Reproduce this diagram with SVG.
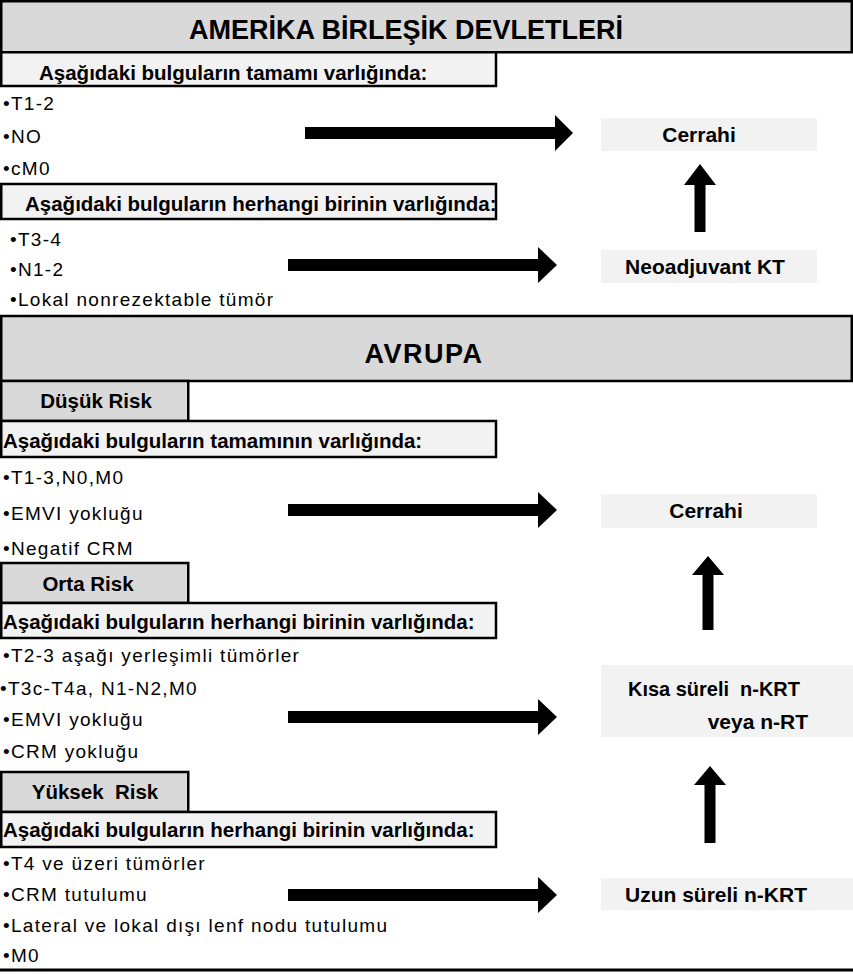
<svg xmlns="http://www.w3.org/2000/svg" width="853" height="974" viewBox="0 0 853 974">
<style>
.hdr{fill:#d9d9d9;stroke:#000;stroke-width:2.5}
.sub{fill:#f2f2f2;stroke:#000;stroke-width:2.5}
.res{fill:#f2f2f2}
text{fill:#000;font-family:"Liberation Sans",Arial,sans-serif}
.tt{font-size:27px;font-weight:bold;text-anchor:middle}
.tb{font-size:20.5px;font-weight:bold}
.tr{font-size:21px;font-weight:bold}
.ti{font-size:19px;letter-spacing:1.3px}
.mid{text-anchor:middle}
.arr{fill:#000}
</style>
<rect width="853" height="974" fill="#fff"/>

<g id="header-usa">
<rect class="hdr" x="1.25" y="1.25" width="850.5" height="51"/>
<text class="tt" x="406" y="39">AMERİKA BİRLEŞİK DEVLETLERİ</text>
</g>
<g id="box-usa-all">
<rect class="sub" x="1.25" y="52.25" width="494.75" height="33.75"/>
<text class="tb" x="39" y="80">Aşağıdaki bulguların tamamı varlığında:</text>
</g>
<g id="list-usa-1">
<text class="ti" x="3" y="110">•T1-2</text>
<text class="ti" x="3" y="143">•NO</text>
<text class="ti" x="3" y="175">•cM0</text>
</g>
<g id="box-usa-any">
<rect class="sub" x="1.25" y="184" width="494.75" height="35"/>
<text class="tb" x="25" y="211">Aşağıdaki bulguların herhangi birinin varlığında:</text>
</g>
<g id="list-usa-2">
<text class="ti" x="10" y="246">•T3-4</text>
<text class="ti" x="10" y="276">•N1-2</text>
<text class="ti" x="10" y="306">•Lokal nonrezektable tümör</text>
</g>
<g id="node-cerrahi-1">
<rect class="res" x="601" y="118" width="216" height="33"/>
<text class="tr mid" x="699" y="142">Cerrahi</text>
</g>
<g id="node-neoadjuvant">
<rect class="res" x="601" y="250" width="216" height="33"/>
<text class="tr mid" x="705" y="274">Neoadjuvant KT</text>
</g>

<g id="header-eu">
<rect class="hdr" x="1.25" y="316" width="850.5" height="65"/>
<text class="tt" x="424" y="363" style="letter-spacing:1.5px">AVRUPA</text>
</g>
<g id="risk-low">
<rect class="hdr" x="1.25" y="381" width="187" height="40"/>
<text class="tb mid" x="96" y="408">Düşük Risk</text>
</g>
<g id="box-low">
<rect class="sub" x="1.25" y="421" width="494.75" height="36"/>
<text class="tb" x="3" y="448">Aşağıdaki bulguların tamamının varlığında:</text>
</g>
<g id="list-low">
<text class="ti" x="3" y="484">•T1-3,N0,M0</text>
<text class="ti" x="3" y="520">•EMVI yokluğu</text>
<text class="ti" x="3" y="555">•Negatif CRM</text>
</g>
<g id="risk-mid">
<rect class="hdr" x="1.25" y="563" width="187" height="40"/>
<text class="tb mid" x="88" y="591">Orta Risk</text>
</g>
<g id="box-mid">
<rect class="sub" x="1.25" y="603" width="494.75" height="35"/>
<text class="tb" x="3" y="629">Aşağıdaki bulguların herhangi birinin varlığında:</text>
</g>
<g id="list-mid">
<text class="ti" x="3" y="662">•T2-3 aşağı yerleşimli tümörler</text>
<text class="ti" x="0" y="695">•T3c-T4a, N1-N2,M0</text>
<text class="ti" x="3" y="726">•EMVI yokluğu</text>
<text class="ti" x="3" y="758">•CRM yokluğu</text>
</g>
<g id="risk-high">
<rect class="hdr" x="1.25" y="772" width="187" height="40"/>
<text class="tb mid" x="95" y="799" xml:space="preserve">Yüksek  Risk</text>
</g>
<g id="box-high">
<rect class="sub" x="1.25" y="812" width="494.75" height="35"/>
<text class="tb" x="3" y="837">Aşağıdaki bulguların herhangi birinin varlığında:</text>
</g>
<g id="list-high">
<text class="ti" x="3" y="870">•T4 ve üzeri tümörler</text>
<text class="ti" x="3" y="901">•CRM tutulumu</text>
<text class="ti" x="3" y="932">•Lateral ve lokal dışı lenf nodu tutulumu</text>
<text class="ti" x="3" y="962">•M0</text>
</g>
<g id="node-cerrahi-2">
<rect class="res" x="601" y="494" width="216" height="34"/>
<text class="tr mid" x="706" y="518">Cerrahi</text>
</g>
<g id="node-kisa">
<rect class="res" x="601" y="665" width="252" height="72"/>
<text class="tr" x="628" y="696" xml:space="preserve" textLength="172" lengthAdjust="spacingAndGlyphs">Kısa süreli  n-KRT</text>
<text class="tr" x="808" y="729" text-anchor="end">veya n-RT</text>
</g>
<g id="node-uzun">
<rect class="res" x="601" y="878" width="252" height="32"/>
<text class="tr" x="625" y="902">Uzun süreli n-KRT</text>
</g>
<line x1="0" y1="970" x2="853" y2="970" stroke="#000" stroke-width="3"/>

<g id="connectors">
<polygon class="arr" points="305,127 555,127 555,115 573,133 555,151 555,139 305,139"/>
<polygon class="arr" points="288,259 538,259 538,247 557,265 538,283 538,271 288,271"/>
<polygon class="arr" points="288,504 538,504 538,492 557,510 538,528 538,516 288,516"/>
<polygon class="arr" points="288,711 538,711 538,699 557,717 538,735 538,723 288,723"/>
<polygon class="arr" points="288,889 538,889 538,877 557,895 538,913 538,901 288,901"/>
<polygon class="arr" points="694.5,232 694.5,185 684,185 700,164 716,185 705.5,185 705.5,232"/>
<polygon class="arr" points="702.5,630 702.5,575 692,575 708,556 724,575 713.5,575 713.5,630"/>
<polygon class="arr" points="704.5,843 704.5,785 694,785 710,766 726,785 715.5,785 715.5,843"/>
</g>
</svg>
